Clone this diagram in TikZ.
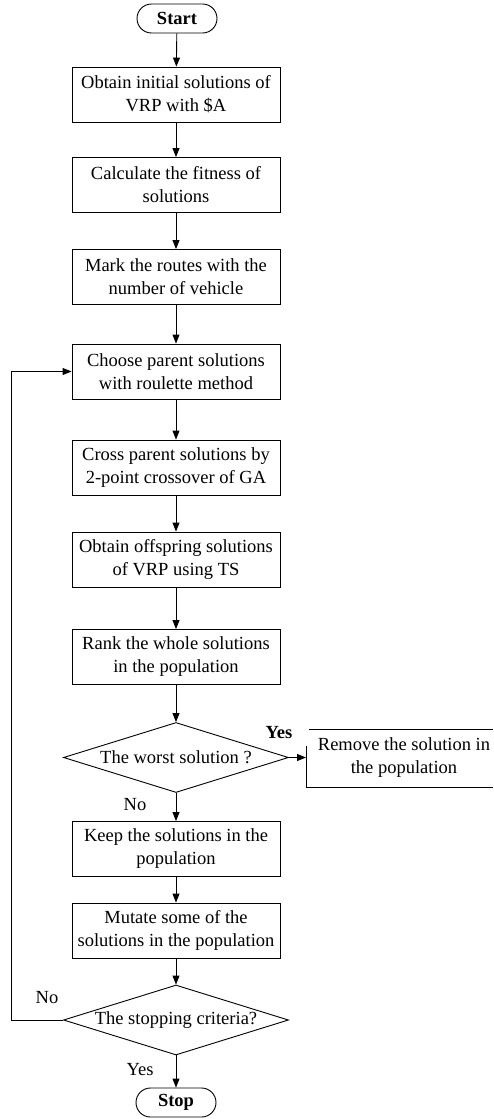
\documentclass[tikz,border=0pt]{standalone}
\usepackage{fontspec}
\setmainfont{Liberation Serif}
\usetikzlibrary{shapes.geometric,arrows.meta}
\begin{document}
\begin{tikzpicture}[x=1pt,y=-1pt,
 every node/.style={font=\fontsize{18.5}{23}\selectfont},
 proc/.style={draw, line width=0.9pt, minimum width=208pt, minimum height=55pt, align=center, inner sep=0pt},
 term/.style={draw, line width=0.9pt, rounded corners=14.5pt, minimum width=80pt, minimum height=29pt, inner sep=0pt, font=\fontsize{18.5}{23}\selectfont\bfseries},
 dec/.style={draw, diamond, aspect=3.2, line width=0.9pt, minimum width=225pt, minimum height=70pt, inner sep=0pt},
 arr/.style={line width=0.9pt, -{Triangle[length=9pt,width=7pt]}},
 ln/.style={line width=0.9pt},
 lab/.style={inner sep=0pt}
]
\useasboundingbox (0,0) rectangle (493,1119);

\node[term] (start) at (177,18.5) {Start};
\node[proc] (b1) at (176,94.5) {Obtain initial solutions of\\VRP with \$A};
\node[proc] (b2) at (176,185) {Calculate the fitness of\\solutions};
\node[proc] (b3) at (176,277) {Mark the routes with the\\number of vehicle};
\node[proc] (b4) at (176,371.5) {Choose parent solutions\\with roulette method};
\node[proc] (b5) at (176,467.5) {Cross parent solutions by\\2-point crossover of GA};
\node[proc] (b6) at (176,559.5) {Obtain offspring solutions\\of VRP using TS};
\node[proc] (b7) at (176,657) {Rank the whole solutions\\in the population};
\node[dec] (d1) at (176,757.5) {The worst solution ?};
\node[proc] (b8) at (176,849) {Keep the solutions in the\\population};
\node[proc] (b9) at (176,930.5) {Mutate some of the\\solutions in the population};
\node[dec] (d2) at (176,1020) {The stopping criteria?};
\node[term] (stop) at (176,1102.5) {Stop};

% remove box (open on the right)
\node[align=center, inner sep=0pt] (rem) at (404,758) {Remove the solution in\\the population};
\coordinate (remL) at (306,757.5);
\coordinate (remTL) at (309,729);
\coordinate (remTR) at (493,729);
\coordinate (remLT) at (306,746);
\coordinate (remBL) at (306,787);
\coordinate (remBR) at (493,787);
\draw[ln] (remTL) -- (remTR);
\draw[ln] (remLT) -- (remBL) -- (remBR);

% connectors
\draw[arr] (start) -- (b1);
\draw[arr] (b1) -- (b2);
\draw[arr] (b2) -- (b3);
\draw[arr] (b3) -- (b4);
\draw[arr] (b4) -- (b5);
\draw[arr] (b5) -- (b6);
\draw[arr] (b6) -- (b7);
\draw[arr] (b7) -- (d1);
\draw[arr] (d1.east) -- (remL);
\draw[arr] (d1) -- (b8);
\draw[arr] (b8) -- (b9);
\draw[arr] (b9) -- (d2);
\draw[arr] (d2) -- (stop);
\coordinate (lp) at (11,1020);
\draw[arr] (d2.west) -- (lp) |- (b4.west);

% labels
\node[lab, font=\fontsize{18.5}{23}\selectfont\bfseries] (yes1) at (279,733) {Yes};
\node[lab] (no1) at (135,805) {No};
\node[lab] (no2) at (47,998) {No};
\node[lab] (yes2) at (140,1070) {Yes};
\end{tikzpicture}
\end{document}
